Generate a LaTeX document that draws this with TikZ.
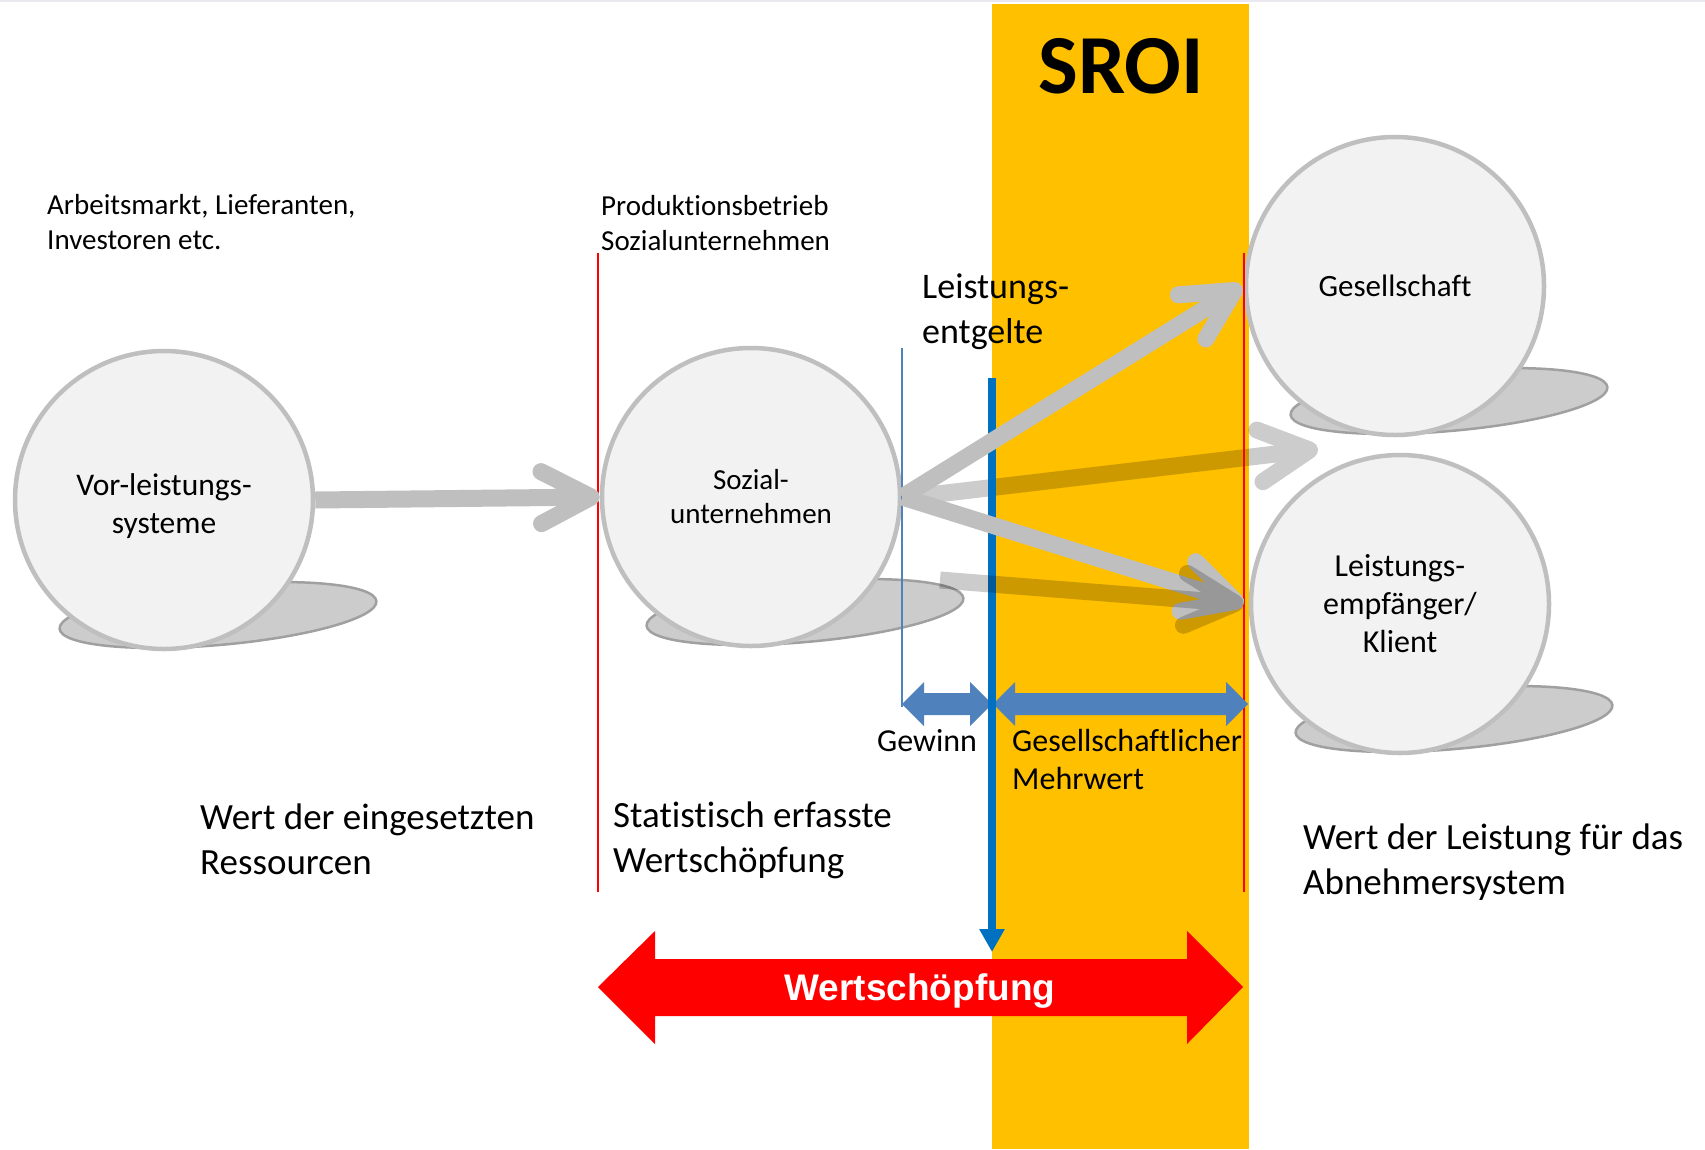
\documentclass[tikz,border=0pt]{standalone}
\usepackage{fontspec}
\setmainfont{Carlito}[Ligatures=NoCommon]
\newfontfamily\arialfont{Liberation Sans}
\usetikzlibrary{arrows.meta,shapes.geometric}
\definecolor{sroiyellow}{HTML}{FFC000}
\definecolor{circfill}{HTML}{F2F2F2}
\definecolor{circline}{HTML}{BFBFBF}
\definecolor{shadowfill}{HTML}{CCCCCC}
\definecolor{shadowline}{HTML}{A0A0A0}
\definecolor{arrowgray}{HTML}{BFBFBF}
\definecolor{darkblue}{HTML}{0070C0}
\definecolor{midblue}{HTML}{4F81BD}
\definecolor{topline}{HTML}{E8E8EE}
\begin{document}
\begin{tikzpicture}[x=1pt,y=-1pt,
  circ/.style={circle, draw=circline, fill=circfill, line width=4.5pt, minimum size=298pt, inner sep=0pt, align=center},
  shadowell/.style={ellipse, draw=shadowline, fill=shadowfill, line width=2.5pt, minimum width=318pt, minimum height=60pt, rotate=5, inner sep=0pt},
  grayarrow/.style={draw=arrowgray, line width=17pt, -{Straight Barb[length=50pt,width=52pt,round]}},
  transarrow/.style={draw=black, line width=17pt, -{Straight Barb[length=50pt,width=52pt,round]}},
  lbl/.style={inner sep=0pt, align=left, anchor=base west},
  small/.style={font=\fontsize{29}{35}\selectfont},
  mid/.style={font=\fontsize{32}{38}\selectfont},
  big/.style={font=\fontsize{37}{44.5}\selectfont},
  redline/.style={draw=red, line width=1.5pt},
]
\useasboundingbox (0,0) rectangle (1705,1149);
\fill[white] (0,0) rectangle (1705,1149);
\fill[topline] (0,0) rectangle (1705,2);
% SROI band
\fill[sroiyellow] (992,4) rectangle (1249,1149);
\node[font=\bfseries\fontsize{84}{100}\selectfont, anchor=base, inner sep=0pt] (sroi) at (1121,93) {SROI};

% shadows
\node[shadowell] (vorsh) at (218,615) {};
\node[shadowell] (sozsh) at (805,612) {};
\node[shadowell] (gessh) at (1449,401) {};
\node[shadowell] (leksh) at (1454,719) {};

% circles
\node[circ, font=\fontsize{31.5}{38}\selectfont] (vor) at (164,500) {\rule{0pt}{34pt}Vor-leistungs-\\systeme};
\node[circ, font=\fontsize{29}{34}\selectfont] (soz) at (751,497) {Sozial-\\unternehmen};
\node[circ, font=\fontsize{31}{38}\selectfont] (ges) at (1395,286) {Gesellschaft};
\node[circ, font=\fontsize{32}{38}\selectfont] (lek) at (1400,604) {Leistungs-\\empfänger/\\Klient};

% helper coordinates
\coordinate (a4s) at (912,497);
\coordinate (a4e) at (1318,449);
\coordinate (a5s) at (940,580);
\coordinate (redLtop) at (598,253);
\coordinate (redLbot) at (598,892);
\coordinate (redRtop) at (1244,253);
\coordinate (redRbot) at (1244,892);
\coordinate (gewtop) at (902,348);
\coordinate (gewbot) at (902,707);
\coordinate (bluetop) at (992,378);
\coordinate (bluebot) at (992,952);

% transparent middle arrow (under blue line)
\begin{scope}[transparency group, opacity=0.2]
  \draw[transarrow] (a4s) -- (a4e);
\end{scope}

% thin lines
\draw[redline] (redLtop) -- (redLbot);
\draw[redline] (redRtop) -- (redRbot);
\draw[draw=midblue, line width=1.5pt] (gewtop) -- (gewbot);

% blue double arrows
\fill[midblue] (902,704) -- (924,682) -- (924,693) -- (970,693) -- (970,682) -- (992,704) -- (970,726) -- (970,715) -- (924,715) -- (924,726) -- cycle;
\fill[midblue] (993,704) -- (1015,682) -- (1015,693) -- (1226,693) -- (1226,682) -- (1248,704) -- (1226,726) -- (1226,715) -- (1015,715) -- (1015,726) -- cycle;

% thick blue line
\draw[draw=darkblue, line width=8pt, -{Triangle[length=23pt,width=24pt]}] (bluetop) -- (bluebot);

% opaque gray arrows
\draw[grayarrow] (vor.east) -- (soz.west);
\draw[grayarrow] (soz.east) -- ([xshift=-2pt]ges.west);
\draw[grayarrow] (soz.east) -- ([xshift=-5pt]lek.west);

% transparent lower arrow (over blue line)
\begin{scope}[transparency group, opacity=0.2]
  \draw[transarrow] (a5s) -- ([xshift=-5pt]lek.west);
\end{scope}

% red double arrow
\fill[red] (598,987) -- (655,931) -- (655,959) -- (1187,959) -- (1187,931) -- (1243,987) -- (1187,1044) -- (1187,1016) -- (655,1016) -- (655,1044) -- cycle;
\node[font=\arialfont\bfseries\fontsize{37}{44}\selectfont, text=white, anchor=base, inner sep=0pt] (wsl) at (920,1000) {Wertschöpfung};

% labels (base = last line)
\node[lbl, small] (tarb) at (47,249) {Arbeitsmarkt, Lieferanten,\\Investoren etc.};
\node[lbl, small] (tprod) at (601,250) {Produktionsbetrieb\\Sozialunternehmen};
\node[lbl, font=\fontsize{36}{45}\selectfont] (tent) at (922,343) {Leistungs-\\entgelte};
\node[lbl, mid] (tgew) at (877,751) {Gewinn};
\node[lbl, mid] (tmehr) at (1012,789) {Gesellschaftlicher\\Mehrwert};
\node[lbl, big] (twert) at (200,874) {Wert der eingesetzten\\Ressourcen};
\node[lbl, big] (tstat) at (613,872) {Statistisch erfasste\\Wertschöpfung};
\node[lbl, big] (tabn) at (1303,894) {Wert der Leistung für das\\Abnehmersystem};
\end{tikzpicture}
\end{document}
